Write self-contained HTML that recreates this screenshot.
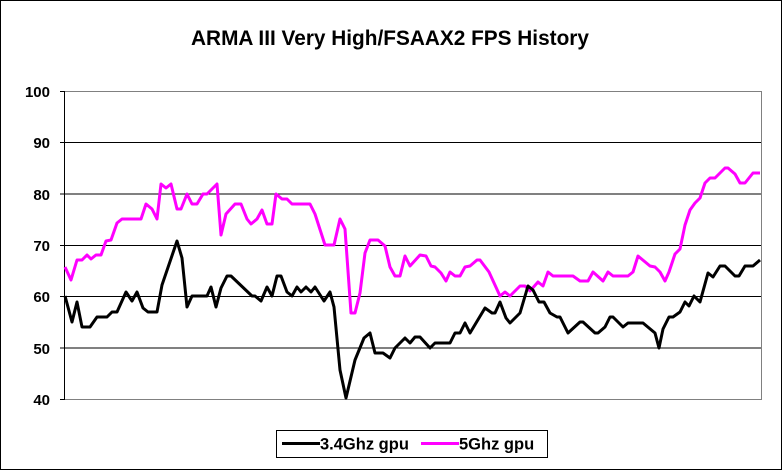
<!DOCTYPE html>
<html><head><style>
html,body{margin:0;padding:0;background:#fff}
svg{display:block}
text{font-family:"Liberation Sans",Arial,sans-serif;font-weight:bold}
</style></head><body>
<svg width="782" height="470" viewBox="0 0 782 470" xmlns="http://www.w3.org/2000/svg">
<rect x="0.5" y="0.5" width="781" height="469" fill="#fff" stroke="#000"/>
<text x="390" y="45" font-size="20.8" text-anchor="middle">ARMA III Very High/FSAAX2 FPS History</text>
<g stroke="#000" stroke-width="1">
<line x1="64" y1="142.5" x2="761" y2="142.5"/>
<line x1="64" y1="194" x2="761" y2="194"/>
<line x1="64" y1="245.5" x2="761" y2="245.5"/>
<line x1="64" y1="296.5" x2="761" y2="296.5"/>
<line x1="64" y1="348" x2="761" y2="348"/>
<line x1="60" y1="91.5" x2="64" y2="91.5"/>
<line x1="60" y1="142.5" x2="64" y2="142.5"/>
<line x1="60" y1="194" x2="64" y2="194"/>
<line x1="60" y1="245.5" x2="64" y2="245.5"/>
<line x1="60" y1="296.5" x2="64" y2="296.5"/>
<line x1="60" y1="348" x2="64" y2="348"/>
<line x1="60" y1="399.5" x2="64" y2="399.5"/>
</g>
<g stroke="#808080" fill="none"><polyline points="64,91.5 761.5,91.5 761.5,399.5 64,399.5"/></g>
<line x1="64.5" y1="91" x2="64.5" y2="400" stroke="#000"/>
<g font-size="15" text-anchor="end">
<text x="50" y="97">100</text><text x="50" y="148">90</text><text x="50" y="200">80</text>
<text x="50" y="251">70</text><text x="50" y="302">60</text><text x="50" y="354">50</text><text x="50" y="405">40</text>
</g>
<polyline fill="none" stroke="#ff00ff" stroke-width="3" stroke-linejoin="round" points="65,267 71,280 77,260 82,260 87,255 91,259 96,255 101,255 106,241 111,240 117,223 122,219 141,219 146,204 152,209 157,219 161,184 166,188 171,184 177,209 181,209 187,194 192,204 197,204 203,194 207,194 217,184 221,235 226,214 235,204 241,204 247,219 251,224 257,219 262,210 267,224 272,224 276,194 282,199 287,199 292,204 310,204 315,214 325,245 334,245 340,219 345,229 351,313 355,313 360,293 365,253 370,240 378,240 385,246 390,267 395,276 400,276 405,256 410,266 420,255 426,256 431,266 435,267 441,273 446,281 450,272 455,276 460,276 465,267 470,266 477,260 480,260 489,272 500,296 505,292 510,296 520,286 525,286 530,291 538,282 543,286 548,272 553,276 573,276 580,281 588,281 593,272 603,281 608,272 613,276 628,276 633,272 638,256 650,266 655,267 660,272 665,281 669,272 675,254 680,249 685,225 690,210 695,203 700,198 705,183 710,178 715,178 725,168 728,168 735,174 740,183 745,183 753,173 760,173"/>
<polyline fill="none" stroke="#000" stroke-width="3" stroke-linejoin="round" points="65,296 72,322 77,302 82,327 90,327 97,317 107,317 112,312 117,312 126,292 132,301 137,292 143,308 148,312 157,312 162,285 177,241 182,258 187,307 192,296 207,296 211,287 216,307 221,288 227,276 231,276 252,296 255,296 261,301 267,287 272,296 277,276 281,276 287,292 292,296 297,287 301,292 306,287 311,292 315,287 324,301 330,292 334,307 340,370 346,398 355,360 364,338 370,333 375,353 383,353 390,358 395,348 405,338 410,343 415,337 420,337 430,348 435,343 450,343 455,333 460,333 465,323 470,333 482,313 485,308 492,313 495,313 500,302 506,318 510,323 520,313 528,286 533,290 539,302 544,302 550,313 557,317 560,317 568,333 580,322 583,322 595,333 598,333 605,327 610,317 613,317 623,327 628,323 643,323 655,333 659,348 663,329 669,317 673,317 680,312 685,302 689,306 694,296 700,302 708,273 713,277 720,266 725,266 735,276 739,276 745,266 753,266 760,260"/>
<rect x="276.5" y="430.5" width="271" height="27" fill="#fff" stroke="#000"/>
<line x1="282" y1="443.5" x2="320" y2="443.5" stroke="#000" stroke-width="3"/>
<text x="320" y="449.5" font-size="16.5">3.4Ghz gpu</text>
<line x1="421" y1="443.5" x2="459" y2="443.5" stroke="#ff00ff" stroke-width="3"/>
<text x="459" y="449.5" font-size="16.5">5Ghz gpu</text>
</svg>
</body></html>
